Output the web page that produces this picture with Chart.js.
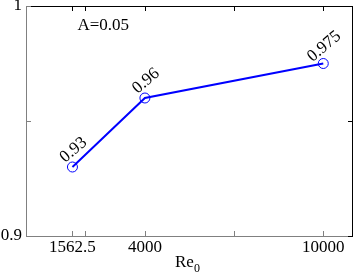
<!DOCTYPE html>
<html lang="en">
<head>
    <meta charset="UTF-8">
    <title>Re0 chart</title>
    <script src="https://cdn.jsdelivr.net/npm/chart.js"></script>
    <style>
        body{
            margin: 0;
            background-color: white;
        }
        .fontwarm{
            position: absolute;
            left: -1000px;
            top: 0;
            font-family: "Liberation Serif";
            font-size: 17px;
        }
    </style>
</head>
<body>
   <span class="fontwarm">0123456789.ARe=</span>
   <canvas id="miCanvas" width="354" height="276"></canvas>
   <script>
       const xValues = [1562.5, 4000, 10000];
       const yValues = [0.93, 0.96, 0.975];
       const pointLabels = ['0.93', '0.96', '0.975'];
       const xTicks = [1562.5, 2000, 4000, 7000, 10000];
       const xTickLabels = ['1562.5', '', '4000', '', '10000'];
       const yTicks = [0.9, 0.95, 1];
       const yTickLabels = ['0.9', '', '1'];

       const serif = '"Liberation Serif"';

       // frame, inner ticks, tick labels, point labels and text
       const decor = {
           id: 'decor',
           afterDraw(chart) {
               const ctx = chart.ctx;
               const a = chart.chartArea;
               const xs = chart.scales.x;
               const ys = chart.scales.y;
               ctx.save();
               ctx.lineWidth = 1;
               // left + bottom gray, top + right black
               ctx.strokeStyle = '#808080';
               ctx.beginPath();
               ctx.moveTo(a.left + 0.5, a.top);
               ctx.lineTo(a.left + 0.5, a.bottom + 0.5);
               ctx.lineTo(a.right, a.bottom + 0.5);
               ctx.stroke();
               ctx.strokeStyle = '#000';
               ctx.beginPath();
               ctx.moveTo(a.left, a.top + 0.5);
               ctx.lineTo(a.right - 0.5, a.top + 0.5);
               ctx.lineTo(a.right - 0.5, a.bottom + 0.5);
               ctx.stroke();

               ctx.fillStyle = '#000';
               ctx.font = '17px ' + serif;
               // x ticks
               ctx.textAlign = 'center';
               ctx.textBaseline = 'top';
               xTicks.forEach((v, i) => {
                   const px = Math.round(xs.getPixelForValue(v)) + 0.5;
                   ctx.strokeStyle = '#808080';
                   ctx.beginPath();
                   ctx.moveTo(px, a.bottom);
                   ctx.lineTo(px, a.bottom - 5);
                   ctx.stroke();
                   ctx.strokeStyle = '#000';
                   ctx.beginPath();
                   ctx.moveTo(px, a.top);
                   ctx.lineTo(px, a.top + 5);
                   ctx.stroke();
                   ctx.fillText(xTickLabels[i], xs.getPixelForValue(v), a.bottom + 3);
               });
               // y ticks
               ctx.textAlign = 'right';
               ctx.textBaseline = 'middle';
               yTicks.forEach((v, i) => {
                   const py = Math.round(ys.getPixelForValue(v)) + 0.5;
                   ctx.strokeStyle = '#808080';
                   ctx.beginPath();
                   ctx.moveTo(a.left, py);
                   ctx.lineTo(a.left + 5, py);
                   ctx.stroke();
                   ctx.strokeStyle = '#000';
                   ctx.beginPath();
                   ctx.moveTo(a.right, py);
                   ctx.lineTo(a.right - 5, py);
                   ctx.stroke();
                   ctx.fillText(yTickLabels[i], a.left - 4, ys.getPixelForValue(v));
               });
               // point labels
               ctx.textAlign = 'center';
               chart.getDatasetMeta(0).data.forEach((pt, i) => {
                   ctx.save();
                   ctx.translate(pt.x + 1, pt.y - 17);
                   ctx.rotate(-40 * Math.PI / 180);
                   ctx.fillText(pointLabels[i], 0, 0);
                   ctx.restore();
               });
               // A=0.05
               ctx.textBaseline = 'alphabetic';
               ctx.fillText('A=0.05', xs.getPixelForValue(2600), ys.getPixelForValue(0.9895));
               // x title Re0
               ctx.textAlign = 'left';
               ctx.fillText('Re', 175, 267);
               ctx.font = '12px ' + serif;
               ctx.fillText('0', 194, 272);
               ctx.restore();
           }
       };

       const chart = new Chart(document.getElementById('miCanvas'), {
           type: 'scatter',
           data: {
               datasets: [{
                   data: xValues.map((x, i) => ({x: x, y: yValues[i]})),
                   showLine: true,
                   borderColor: '#0000ff',
                   borderWidth: 2,
                   pointRadius: 5,
                   pointBorderWidth: 1,
                   pointBorderColor: '#0000ff',
                   pointBackgroundColor: 'rgba(0,0,0,0)'
               }]
           },
           options: {
               responsive: false,
               animation: false,
               layout: {autoPadding: false, padding: {top: 6, right: 1, left: 0, bottom: 0}},
               plugins: {legend: {display: false}, tooltip: {enabled: false}},
               scales: {
                   x: {
                       type: 'linear',
                       min: 0,
                       max: 11000,
                       afterBuildTicks: s => { s.ticks = xTicks.map(v => ({value: v})); },
                       afterFit: s => { s.height = 40; },
                       grid: {display: false, drawTicks: false},
                       border: {display: false},
                       ticks: {display: false}
                   },
                   y: {
                       min: 0.9,
                       max: 1,
                       afterBuildTicks: s => { s.ticks = yTicks.map(v => ({value: v})); },
                       afterFit: s => { s.width = 26; },
                       grid: {display: false, drawTicks: false},
                       border: {display: false},
                       ticks: {display: false}
                   }
               }
           },
           plugins: [decor]
       });

       // redraw once the serif font is ready
       document.fonts.ready.then(() => chart.draw());
       setTimeout(() => chart.draw(), 50);
   </script>
</body>
</html>
